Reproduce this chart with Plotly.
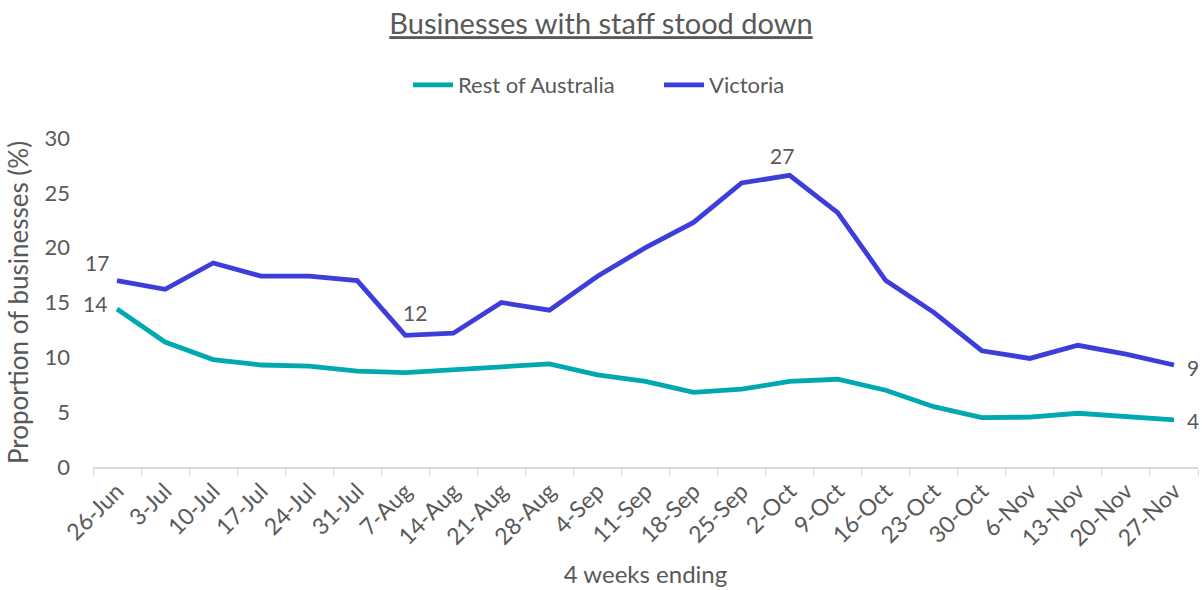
import plotly.graph_objects as go

weeks = ["26-Jun", "3-Jul", "10-Jul", "17-Jul", "24-Jul", "31-Jul", "7-Aug", "14-Aug",
         "21-Aug", "28-Aug", "4-Sep", "11-Sep", "18-Sep", "25-Sep", "2-Oct", "9-Oct",
         "16-Oct", "23-Oct", "30-Oct", "6-Nov", "13-Nov", "20-Nov", "27-Nov"]
rest_of_australia = [14.4, 11.4, 9.8, 9.3, 9.2, 8.75, 8.6, 8.9, 9.2, 9.4, 8.4, 7.8,
                     6.8, 7.1, 7.8, 8.0, 7.0, 5.5, 4.5, 4.55, 4.9, 4.6, 4.3]
victoria = [17.0, 16.2, 18.6, 17.4, 17.4, 17.0, 12.0, 12.2, 15.0, 14.3, 17.4, 20.0,
            22.3, 25.9, 26.6, 23.2, 17.0, 14.1, 10.6, 9.9, 11.1, 10.3, 9.3]
# index -> label text
rest_labels = {0: "14", 22: "4"}
vic_labels = {0: "17", 6: "12", 14: "27", 22: "9"}
# label offsets (style only)
rest_offsets = {0: (-22, 6), 22: (19, -1)}
vic_offsets = {0: (-20, 18), 6: (10, 23), 14: (-8, 20), 22: (19, -2)}

TEAL = "#00A8B0"
BLUE = "#3D3DDC"
GREY = "#595959"
FONT = "Lato, 'Open Sans', sans-serif"

fig = go.Figure()
annotations = []
for name, vals, color, labels, offs in [
        ("Rest of Australia", rest_of_australia, TEAL, rest_labels, rest_offsets),
        ("Victoria", victoria, BLUE, vic_labels, vic_offsets)]:
    fig.add_trace(go.Scatter(
        x=weeks, y=vals, name=name, mode="lines",
        line=dict(color=color, width=4.8),
    ))
    for i, txt in labels.items():
        dx, dy = offs[i]
        annotations.append(dict(
            x=weeks[i], y=vals[i], xref="x", yref="y", text=txt, showarrow=False,
            xshift=dx, yshift=dy, font=dict(size=21, color=GREY, family=FONT),
        ))

fig.update_layout(
    width=1202, height=590,
    margin=dict(l=93, r=4, t=138, b=123),
    paper_bgcolor="white", plot_bgcolor="white",
    font=dict(family=FONT, color=GREY),
    title=dict(text="<u>Businesses with staff stood down</u>", x=0.5, xanchor="center",
               y=1 - 24 / 590, yanchor="middle", font=dict(size=29, color=GREY, family=FONT)),
    legend=dict(orientation="h", x=(408 - 93) / 1105, xanchor="left", y=1.161, yanchor="middle",
                font=dict(size=22, color=GREY, family=FONT), itemwidth=40,
                entrywidth=196, traceorder="normal"),
    showlegend=True,
    annotations=annotations,
)
fig.update_xaxes(
    type="category", range=[-0.5, len(weeks) - 0.5], tickangle=-45, tickson="boundaries",
    showline=True, linecolor="#D9D9D9", linewidth=1.5,
    ticks="outside", tickcolor="#D9D9D9", ticklen=7,
    tickfont=dict(size=23, color=GREY, family=FONT),
    showgrid=False, automargin=False,
    title=dict(text="4 weeks ending", font=dict(size=24, color=GREY, family=FONT), standoff=16),
)
fig.update_yaxes(
    range=[0, 30], tickvals=[0, 5, 10, 15, 20, 25, 30],
    showgrid=False, zeroline=False, showline=False, automargin=False,
    tickfont=dict(size=22, color=GREY, family=FONT), ticklabelstandoff=22,
    title=dict(text="Proportion of businesses (%)", font=dict(size=26, color=GREY, family=FONT),
               standoff=8),
)

fig.write_html("out.html")
